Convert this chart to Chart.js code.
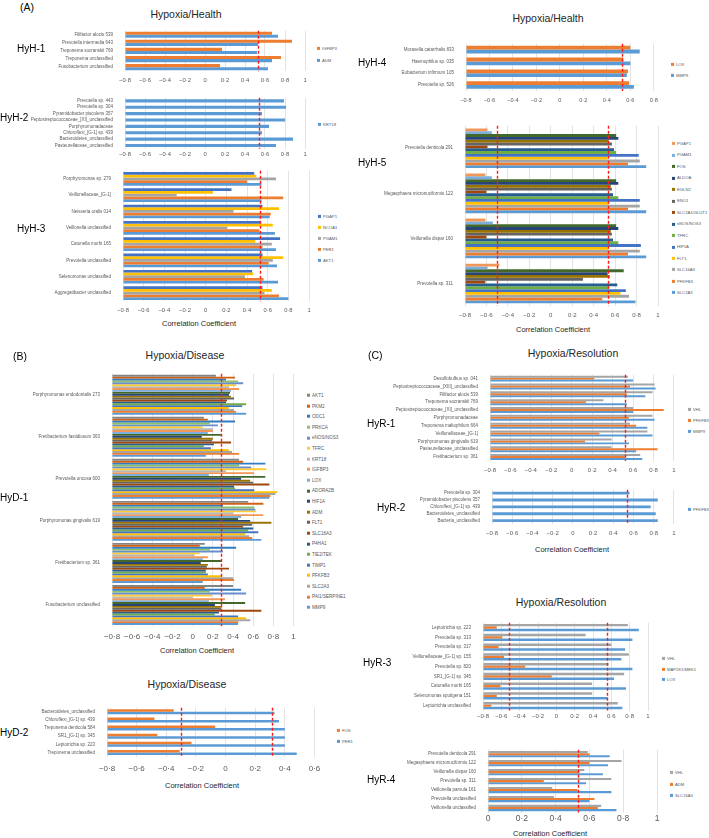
<!DOCTYPE html>
<html>
<head>
<meta charset="utf-8">
<script src="https://cdn.jsdelivr.net/npm/chart.js@4.4.0/dist/chart.umd.min.js"></script>
<style>
body{margin:0;background:#fff;font-family:"Liberation Sans",Arial,sans-serif}
#fig{position:relative;width:709px;height:838px;overflow:hidden;background:#fff}
canvas{position:absolute}
.c{position:absolute;white-space:nowrap;transform:translate(-50%,-50%);color:#262626}
.l{position:absolute;white-space:nowrap;transform:translateY(-50%);color:#000}
.lg{position:absolute;white-space:nowrap;transform:translateY(-50%);color:#595959;line-height:1}
.lg i{display:inline-block;width:3px;height:3px;margin-right:2px;vertical-align:middle}
</style>
</head>
<body>
<div id="fig"></div>
<script>
// ---- data ----
const hyh1Taxa = ['Filifactor alocis 539', 'Prevotella intermedia 643', 'Treponema socranskii 769', 'Treponema unclassified', 'Fusobacterium unclassified'];
const hyh1IGFBP3 = [0.67, 0.87, 0.17, 0.76, 0.15];
const hyh1ADM = [0.73, 0.53, 0.52, 0.67, 0.63];

const hyh2Taxa = ['Prevotella sp. 443', 'Prevotella sp. 304', 'Pyramidobacter piscolens 357', 'Peptostreptococcaceae_[XI]_unclassified', 'Porphyromonadaceae', 'Chloroflexi_[G-1] sp. 439', 'Bacteroidetes_unclassified', 'Pasteurellaceae_unclassified'];
const hyh2KRT18 = [0.79, 0.81, 0.57, 0.80, 0.64, 0.57, 0.88, 0.71];

const hyh3Taxa = ['Porphyromonas sp. 279', 'Veillonellaceae_[G-1]', 'Neisseria oralis 014', 'Veillonella unclassified', 'Catonella morbi 165', 'Prevotella unclassified', 'Selenomonas unclassified', 'Aggregatibacter unclassified'];
const hyh3PGAP1 = [0.47, 0.25, 0.55, 0.53, 0.72, 0.55, 0.45, 0.55];
const hyh3NCOA1 = [0.49, 0.07, 0.71, 0.65, 0.48, 0.75, 0.46, 0.64];
const hyh3PGAM1 = [0.68, -0.28, 0.27, 0.21, 0.64, 0.65, 0.38, 0.57];
const hyh3PER1 = [0.40, 0.75, 0.63, 0.52, 0.55, 0.61, 0.56, 0.71];
const hyh3AKT1 = [0.54, 0.54, 0.62, 0.67, 0.68, 0.69, 0.70, 0.80];

const hyh4Taxa = ['Moraxella catarrhalis 833', 'Haemophilus sp. 035', 'Eubacterium infirmum 105', 'Prevotella sp. 526'];
const hyh4LOX = [0.60, 0.54, 0.58, 0.59];
const hyh4MMP9 = [0.68, 0.60, 0.57, 0.63];

const hyh5Taxa = ['Prevotella denticola 291', 'Megasphaera micronuciformis 122', 'Veillonella dispar 160', 'Prevotella sp. 311'];
const hyh5PGAP1 = [-0.59, -0.61, -0.61, -0.48];
const hyh5PGAM1 = [-0.55, -0.55, -0.54, -0.59];
const hyh5FOS = [0.61, 0.61, 0.61, 0.68];
const hyh5ALDOA = [0.63, 0.63, 0.63, 0.53];
const hyh5EGLN2 = [0.54, 0.56, 0.56, 0.55];
const hyh5ENO1 = [0.57, 0.57, 0.57, 0.30];
const hyh5SLC2A1 = [-0.59, -0.60, -0.60, -0.61];
const hyh5NOS3 = [0.59, 0.58, 0.58, 0.62];
const hyh5TFRC = [0.61, 0.63, 0.63, 0.54];
const hyh5HIF1A = [0.82, 0.83, 0.84, 0.70];
const hyh5FLT1 = [0.53, 0.54, 0.54, 0.65];
const hyh5SLC16A3 = [0.83, 0.83, 0.83, 0.73];
const hyh5PFKFB3 = [0.72, 0.72, 0.72, 0.48];
const hyh5SLC2A3 = [0.89, 0.89, 0.89, 0.79];

const hyd1Taxa = ['Porphyromonas endodontalis 273', 'Fretibacterium fastidiosum 363', 'Prevotella oncosa 600', 'Porphyromonas gingivalis 619', 'Fretibacterium sp. 361', 'Fusobacterium unclassified'];
const hyd1AKT1 = [0.23, 0.11, 0.46, 0.55, 0.12, 0.40];
const hyd1PKM2 = [0.42, 0.15, 0.50, 0.70, 0.07, 0.12];
const hyd1ODC1 = [0.33, 0.42, 0.72, 0.30, 0.43, 0.48];
const hyd1PRKCA = [0.45, 0.17, 0.46, 0.61, 0.17, 0.17];
const hyd1NOS3 = [0.50, 0.25, 0.58, 0.62, 0.30, 0.53];
const hyd1TFRC = [0.43, 0.10, 0.73, 0.63, 0.07, 0.19];
const hyd1KRT18 = [0.36, 0.20, 0.33, 0.40, 0.02, 0.00];
const hyd1IGFBP3 = [0.46, 0.20, 0.61, 0.70, 0.15, 0.32];
const hyd1LOX = [0.38, 0.15, 0.16, 0.48, 0.10, 0.16];
const hyd1ADORA2B = [0.37, 0.28, 0.72, 0.45, 0.29, 0.52];
const hyd1HIF1A = [0.36, 0.09, 0.48, 0.57, 0.08, 0.22];
const hyd1ADM = [0.38, 0.20, 0.57, 0.78, 0.15, 0.29];
const hyd1FLT1 = [0.41, 0.19, 0.60, 0.59, 0.14, 0.28];
const hyd1SLC16A3 = [0.34, 0.38, 0.76, 0.50, 0.36, 0.68];
const hyd1P4HA1 = [0.33, 0.21, 0.41, 0.60, 0.13, 0.26];
const hyd1TEK = [0.53, 0.11, 0.42, 0.55, 0.13, 0.22];
const hyd1TIMP1 = [0.49, 0.18, 0.61, 0.65, 0.15, 0.45];
const hyd1PFKFB3 = [0.36, 0.36, 0.84, 0.52, 0.29, 0.53];
const hyd1SLC2A3 = [0.41, 0.39, 0.82, 0.56, 0.40, 0.57];
const hyd1PAI1 = [0.43, 0.46, 0.77, 0.59, 0.41, 0.45];
const hyd1MMP9 = [0.53, 0.13, 0.76, 0.68, 0.10, 0.45];

const hyd2Taxa = ['Bacteroidetes_unclassified', 'Chloroflexi_[G-1] sp. 439', 'Treponema denticola 584', 'SR1_[G-1] sp. 345', 'Leptotrichia sp. 223', 'Treponema unclassified'];
const hyd2FOS = [-0.35, -0.48, -0.07, -0.46, -0.23, -0.31];
const hyd2PER1 = [0.33, 0.36, 0.40, 0.40, 0.40, 0.48];

const hyr1Taxa = ['Desulfobulbus sp. 041', 'Peptostreptococcaceae_[XIII]_unclassified', 'Filifactor alocis 539', 'Treponema socranskii 769', 'Peptostreptococcaceae_[XI]_unclassified', 'Porphyromonadaceae', 'Treponema maltophilum 664', 'Veillonellaceae_[G-1]', 'Porphyromonas gingivalis 619', 'Pasteurellaceae_unclassified', 'Fretibacterium sp. 361'];
const hyr1VHL = [0.55, 0.81, 0.79, 0.31, 0.60, 0.79, 0.57, 0.74, 0.39, 0.39, 0.67];
const hyr1PFKFB3 = [0.22, 0.57, 0.54, 0.14, 0.90, 0.56, 0.63, 0.27, 0.13, 0.84, 0.52];
const hyr1MMP9 = [0.60, 0.82, 0.72, 0.54, 0.60, 0.81, 0.74, 0.79, 0.56, 0.63, 0.69];

const hyr2Taxa = ['Prevotella sp. 304', 'Pyramidobacter piscolens 357', 'Chloroflexi_[G-1] sp. 439', 'Bacteroidetes_unclassified', 'Bacteria_unclassified'];
const hyr2PFKFB3 = [0.56, 0.84, 0.77, 0.82, 0.84];

const hyr3Taxa = ['Leptotrichia sp. 223', 'Prevotella sp. 313', 'Prevotella sp. 317', 'Veillonellaceae_[G-1] sp. 155', 'Prevotella sp. 820', 'SR1_[G-1] sp. 345', 'Catonella morbi 165', 'Selenomonas sputigena 151', 'Leptotrichia unclassified'];
const hyr3VHL = [0.78, 0.32, 0.60, 0.79, 0.57, 0.74, 0.39, 0.39, 0.67];
const hyr3MEK1 = [-0.65, -0.59, -0.63, -0.57, -0.34, -0.05, -0.61, -0.65, -0.71];
const hyr3LOX = [0.90, 0.83, 0.75, 0.71, 0.83, 0.63, 0.76, 0.56, 0.72];

const hyr4Taxa = ['Prevotella denticola 291', 'Megasphaera micronuciformis 122', 'Veillonella dispar 160', 'Prevotella sp. 311', 'Veillonella parvula 161', 'Prevotella unclassified', 'Veillonella unclassified'];
const hyr4VHL = [0.59, 0.79, 0.57, 0.73, 0.38, 0.39, 0.67];
const hyr4ADM = [0.60, 0.60, 0.54, 0.33, 0.53, 0.63, 0.65];
const hyr4SLC16A3 = [0.72, 0.71, 0.68, 0.58, 0.73, 0.60, 0.76];

// significance thresholds (red dashed lines)
const hyh1Cut = [0.53], hyh2Cut = [0.54], hyh3Cut = [0.53], hyh4Cut = [0.53], hyh5Cut = [-0.5, 0.53];
const hyd1Cut = [0.28], hyd2Cut = [-0.3, 0.31];
const hyr1Cut = [0.52], hyr2Cut = [0.54], hyr3Cut = [-0.52, 0.55], hyr4Cut = [0.53];

// excel palette
const C = ['#5B9BD5','#ED7D31','#A5A5A5','#FFC000','#4472C4','#70AD47','#255E91','#9E480E','#636363','#997300','#264478','#43682B','#7CAFDD','#F1975A','#B7B7B7','#FFCD33','#698ED0','#8CC168','#327DC2','#D26012','#848484'];

const fig = document.getElementById('fig');

const refLines = {
  id: 'refLines',
  afterDatasetsDraw(chart, args, opts) {
    const ctx = chart.ctx, a = chart.chartArea, x = chart.scales.x;
    ctx.save();
    ctx.strokeStyle = '#ff1a1a';
    ctx.lineWidth = 1.4;
    ctx.setLineDash([3, 2]);
    (opts.values || []).forEach(v => {
      const px = Math.round(x.getPixelForValue(v)) + 0.5;
      ctx.beginPath(); ctx.moveTo(px, a.top); ctx.lineTo(px, a.bottom); ctx.stroke();
    });
    ctx.restore();
  }
};

function fmt(v) {
  const r = Math.round(v * 10) / 10;
  if (r === 0) return '0';
  return String(r).replace('-', '\u2212').replace('.', '\u00b7');
}

function plot(c) {
  const top = c.plotTop - 2, bottom = c.tickY + c.tf;
  const cv = document.createElement('canvas');
  cv.width = c.right - c.L; cv.height = bottom - top;
  cv.style.left = c.L + 'px'; cv.style.top = top + 'px';
  fig.appendChild(cv);
  new Chart(cv, {
    type: 'bar',
    data: {
      labels: c.cats,
      datasets: c.series.map(s => ({
        label: s.name, data: s.data, backgroundColor: s.color,
        base: c.min, barPercentage: 1, categoryPercentage: c.cp, borderWidth: 0
      }))
    },
    options: {
      indexAxis: 'y', responsive: false, animation: false,
      layout: { padding: { top: 2, right: c.right - c.plotRight, left: 0, bottom: 0 } },
      plugins: { legend: { display: false }, tooltip: { enabled: false }, refLines: { values: c.refs } },
      scales: {
        x: {
          min: c.min, max: c.max,
          grid: { color: '#e3e3e3', drawTicks: false },
          border: { display: false },
          ticks: { stepSize: 0.2, autoSkip: false, maxRotation: 0, color: '#595959',
                   font: { size: c.tf, family: 'Liberation Sans' },
                   padding: c.tickY - c.plotBottom - 0.6 * c.tf, callback: v => fmt(v) },
          afterFit: s => { s.height = bottom - c.plotBottom; }
        },
        y: {
          grid: { display: false }, border: { display: false },
          ticks: { autoSkip: false, color: '#595959', padding: 4, font: { size: 4.5, family: 'Liberation Sans' } },
          afterFit: s => { s.width = c.plotLeft - c.L; }
        }
      }
    },
    plugins: [refLines]
  });
}

function text(s, x, y, size, cls, color) {
  const d = document.createElement('div');
  d.className = cls; d.textContent = s;
  d.style.left = x + 'px'; d.style.top = y + 'px'; d.style.fontSize = size + 'px';
  if (color) d.style.color = color;
  fig.appendChild(d);
}

function legend(x, y0, dy, series, size) {
  series.forEach((s, i) => {
    const d = document.createElement('div');
    d.className = 'lg';
    d.style.left = x + 'px'; d.style.top = (y0 + i * dy) + 'px'; d.style.fontSize = size + 'px';
    d.innerHTML = '<i style="background:' + s.color + '"></i>' + s.name;
    fig.appendChild(d);
  });
}

// ---- series ----
const sH1 = [{ name: 'IGFBP3', color: C[1], data: hyh1IGFBP3 }, { name: 'ADM', color: C[0], data: hyh1ADM }];
const sH2 = [{ name: 'KRT18', color: C[0], data: hyh2KRT18 }];
const sH3 = [
  { name: 'PGAP1', color: C[4], data: hyh3PGAP1 }, { name: 'NCOA1', color: C[3], data: hyh3NCOA1 },
  { name: 'PGAM1', color: C[2], data: hyh3PGAM1 }, { name: 'PER1', color: C[1], data: hyh3PER1 },
  { name: 'AKT1', color: C[0], data: hyh3AKT1 }];
const sH4 = [{ name: 'LOX', color: C[1], data: hyh4LOX }, { name: 'MMP9', color: C[0], data: hyh4MMP9 }];
const sH5 = [
  { name: 'PGAP1', color: C[13], data: hyh5PGAP1 }, { name: 'PGAM1', color: C[12], data: hyh5PGAM1 },
  { name: 'FOS', color: C[11], data: hyh5FOS }, { name: 'ALDOA', color: C[10], data: hyh5ALDOA },
  { name: 'EGLN2', color: C[9], data: hyh5EGLN2 }, { name: 'ENO1', color: C[8], data: hyh5ENO1 },
  { name: 'SLC2A1/GLUT1', color: C[7], data: hyh5SLC2A1 }, { name: 'eNOS/NOS3', color: C[6], data: hyh5NOS3 },
  { name: 'TFRC', color: C[5], data: hyh5TFRC }, { name: 'HIF1A', color: C[4], data: hyh5HIF1A },
  { name: 'FLT1', color: C[3], data: hyh5FLT1 }, { name: 'SLC16A3', color: C[2], data: hyh5SLC16A3 },
  { name: 'PFKFB3', color: C[1], data: hyh5PFKFB3 }, { name: 'SLC2A3', color: C[0], data: hyh5SLC2A3 }];
const sD1 = [
  { name: 'AKT1', color: C[20], data: hyd1AKT1 }, { name: 'PKM2', color: C[19], data: hyd1PKM2 },
  { name: 'ODC1', color: C[18], data: hyd1ODC1 }, { name: 'PRKCA', color: C[17], data: hyd1PRKCA },
  { name: 'eNOS/NOS3', color: C[16], data: hyd1NOS3 }, { name: 'TFRC', color: C[15], data: hyd1TFRC },
  { name: 'KRT18', color: C[14], data: hyd1KRT18 }, { name: 'IGFBP3', color: C[13], data: hyd1IGFBP3 },
  { name: 'LOX', color: C[12], data: hyd1LOX }, { name: 'ADORA2B', color: C[11], data: hyd1ADORA2B },
  { name: 'HIF1A', color: C[10], data: hyd1HIF1A }, { name: 'ADM', color: C[9], data: hyd1ADM },
  { name: 'FLT1', color: C[8], data: hyd1FLT1 }, { name: 'SLC16A3', color: C[7], data: hyd1SLC16A3 },
  { name: 'P4HA1', color: C[6], data: hyd1P4HA1 }, { name: 'TIE2/TEK', color: C[5], data: hyd1TEK },
  { name: 'TIMP1', color: C[4], data: hyd1TIMP1 }, { name: 'PFKFB3', color: C[3], data: hyd1PFKFB3 },
  { name: 'SLC2A3', color: C[2], data: hyd1SLC2A3 }, { name: 'PAI1/SERPINE1', color: C[1], data: hyd1PAI1 },
  { name: 'MMP9', color: C[0], data: hyd1MMP9 }];
const sD2 = [{ name: 'FOS', color: C[1], data: hyd2FOS }, { name: 'PER1', color: C[0], data: hyd2PER1 }];
const sR1 = [{ name: 'VHL', color: C[2], data: hyr1VHL }, { name: 'PFKFB3', color: C[1], data: hyr1PFKFB3 }, { name: 'MMP9', color: C[0], data: hyr1MMP9 }];
const sR2 = [{ name: 'PFKFB3', color: C[0], data: hyr2PFKFB3 }];
const sR3 = [{ name: 'VHL', color: C[2], data: hyr3VHL }, { name: 'MAP2K1/MEK1', color: C[1], data: hyr3MEK1 }, { name: 'LOX', color: C[0], data: hyr3LOX }];
const sR4 = [{ name: 'VHL', color: C[2], data: hyr4VHL }, { name: 'ADM', color: C[1], data: hyr4ADM }, { name: 'SLC16A3', color: C[0], data: hyr4SLC16A3 }];

// ---- charts ----
plot({ L: 30, right: 314, plotLeft: 125, plotRight: 305, plotTop: 26, plotBottom: 72, tickY: 81, tf: 5.8, min: -0.8, max: 1, cp: 0.76, cats: hyh1Taxa, series: sH1, refs: hyh1Cut });
plot({ L: 30, right: 314, plotLeft: 125, plotRight: 305, plotTop: 92.5, plotBottom: 148.5, tickY: 154, tf: 5.8, min: -0.8, max: 1, cp: 0.5, cats: hyh2Taxa, series: sH2, refs: hyh2Cut });
plot({ L: 30, right: 318, plotLeft: 123, plotRight: 309, plotTop: 166, plotBottom: 302, tickY: 311, tf: 5.8, min: -0.8, max: 1, cp: 0.84, cats: hyh3Taxa, series: sH3, refs: hyh3Cut });
plot({ L: 380, right: 664, plotLeft: 466, plotRight: 656, plotTop: 38.5, plotBottom: 90.5, tickY: 100, tf: 5.6, min: -0.8, max: 0.8, cp: 0.64, cats: hyh4Taxa, series: sH4, refs: hyh4Cut });
plot({ L: 380, right: 666, plotLeft: 465, plotRight: 658, plotTop: 121, plotBottom: 306, tickY: 315, tf: 6, min: -0.8, max: 1, cp: 0.88, cats: hyh5Taxa, series: sH5, refs: hyh5Cut });
plot({ L: 30, right: 302, plotLeft: 112, plotRight: 296, plotTop: 368.5, plotBottom: 626, tickY: 637, tf: 8, min: -0.8, max: 1, cp: 0.95, cats: hyd1Taxa, series: sD1, refs: hyd1Cut });
plot({ L: 30, right: 328, plotLeft: 107, plotRight: 320, plotTop: 702.5, plotBottom: 756.5, tickY: 769, tf: 8, min: -0.8, max: 0.6, cp: 0.62, cats: hyd2Taxa, series: sD2, refs: hyd2Cut });
plot({ L: 380, right: 681, plotLeft: 490, plotRight: 674, plotTop: 370, plotBottom: 461, tickY: 470, tf: 6, min: -0.8, max: 1, cp: 0.76, cats: hyr1Taxa, series: sR1, refs: hyr1Cut });
plot({ L: 380, right: 681, plotLeft: 492, plotRight: 674, plotTop: 485, plotBottom: 524, tickY: 533, tf: 6, min: -0.8, max: 1, cp: 0.42, cats: hyr2Taxa, series: sR2, refs: hyr2Cut });
plot({ L: 380, right: 655, plotLeft: 483, plotRight: 648, plotTop: 617.5, plotBottom: 710, tickY: 715.5, tf: 6, min: -0.8, max: 1, cp: 0.74, cats: hyr3Taxa, series: sR3, refs: hyr3Cut });
plot({ L: 380, right: 664, plotLeft: 488, plotRight: 657, plotTop: 745, plotBottom: 812.5, tickY: 818.5, tf: 8.5, min: 0, max: 1, cp: 0.7, cats: hyr4Taxa, series: sR4, refs: hyr4Cut });

// ---- text ----
text('(A)', 20, 7, 10.5, 'l');
text('Hypoxia/Health', 186, 14, 10.5, 'c');
text('HyH-1', 17, 48, 10, 'l');
text('HyH-2', 0, 117, 10, 'l');
text('HyH-3', 17, 228, 10, 'l');
text('Correlation Coefficient', 199, 323, 7.5, 'c');
text('Hypoxia/Health', 548, 18, 10.5, 'c');
text('HyH-4', 358, 62, 10, 'l');
text('HyH-5', 358, 162, 10, 'l');
text('Correlation Coefficient', 553, 329, 7.5, 'c');
text('(B)', 13, 356, 10.5, 'l');
text('Hypoxia/Disease', 185, 355, 10.5, 'c');
text('HyD-1', 0, 497, 10, 'l');
text('Correlation Coefficient', 197, 650, 7.5, 'c');
text('Hypoxia/Disease', 187, 684, 10.5, 'c');
text('HyD-2', 0, 732, 10, 'l');
text('Correlation Coefficient', 202, 785, 7.5, 'c');
text('(C)', 368, 355, 10.5, 'l');
text('Hypoxia/Resolution', 573, 353, 10.5, 'c');
text('HyR-1', 367, 423, 10, 'l');
text('HyR-2', 377, 507, 10, 'l');
text('Correlation Coefficient', 572, 549, 7.5, 'c');
text('Hypoxia/Resolution', 561, 602, 10.5, 'c');
text('HyR-3', 363, 662, 10, 'l');
text('HyR-4', 367, 779, 10, 'l');
text('Correlation Coefficient', 550, 833, 7.5, 'c');

// ---- legends ----
legend(317, 49, 12, sH1, 4.2);
legend(318, 125, 11, sH2, 4.2);
legend(318, 217, 11, sH3, 4.2);
legend(671, 65, 11, sH4, 4.2);
legend(672, 144, 11.46, sH5, 4.2);
legend(307, 396, 10.6, sD1, 4.6);
legend(337, 731, 11, sD2, 4.2);
legend(688, 410, 11, sR1, 4.2);
legend(688, 510, 11, sR2, 4.2);
legend(662, 659, 10.5, sR3, 4.2);
legend(670, 773, 11.5, sR4, 4.2);
</script>
</body>
</html>
